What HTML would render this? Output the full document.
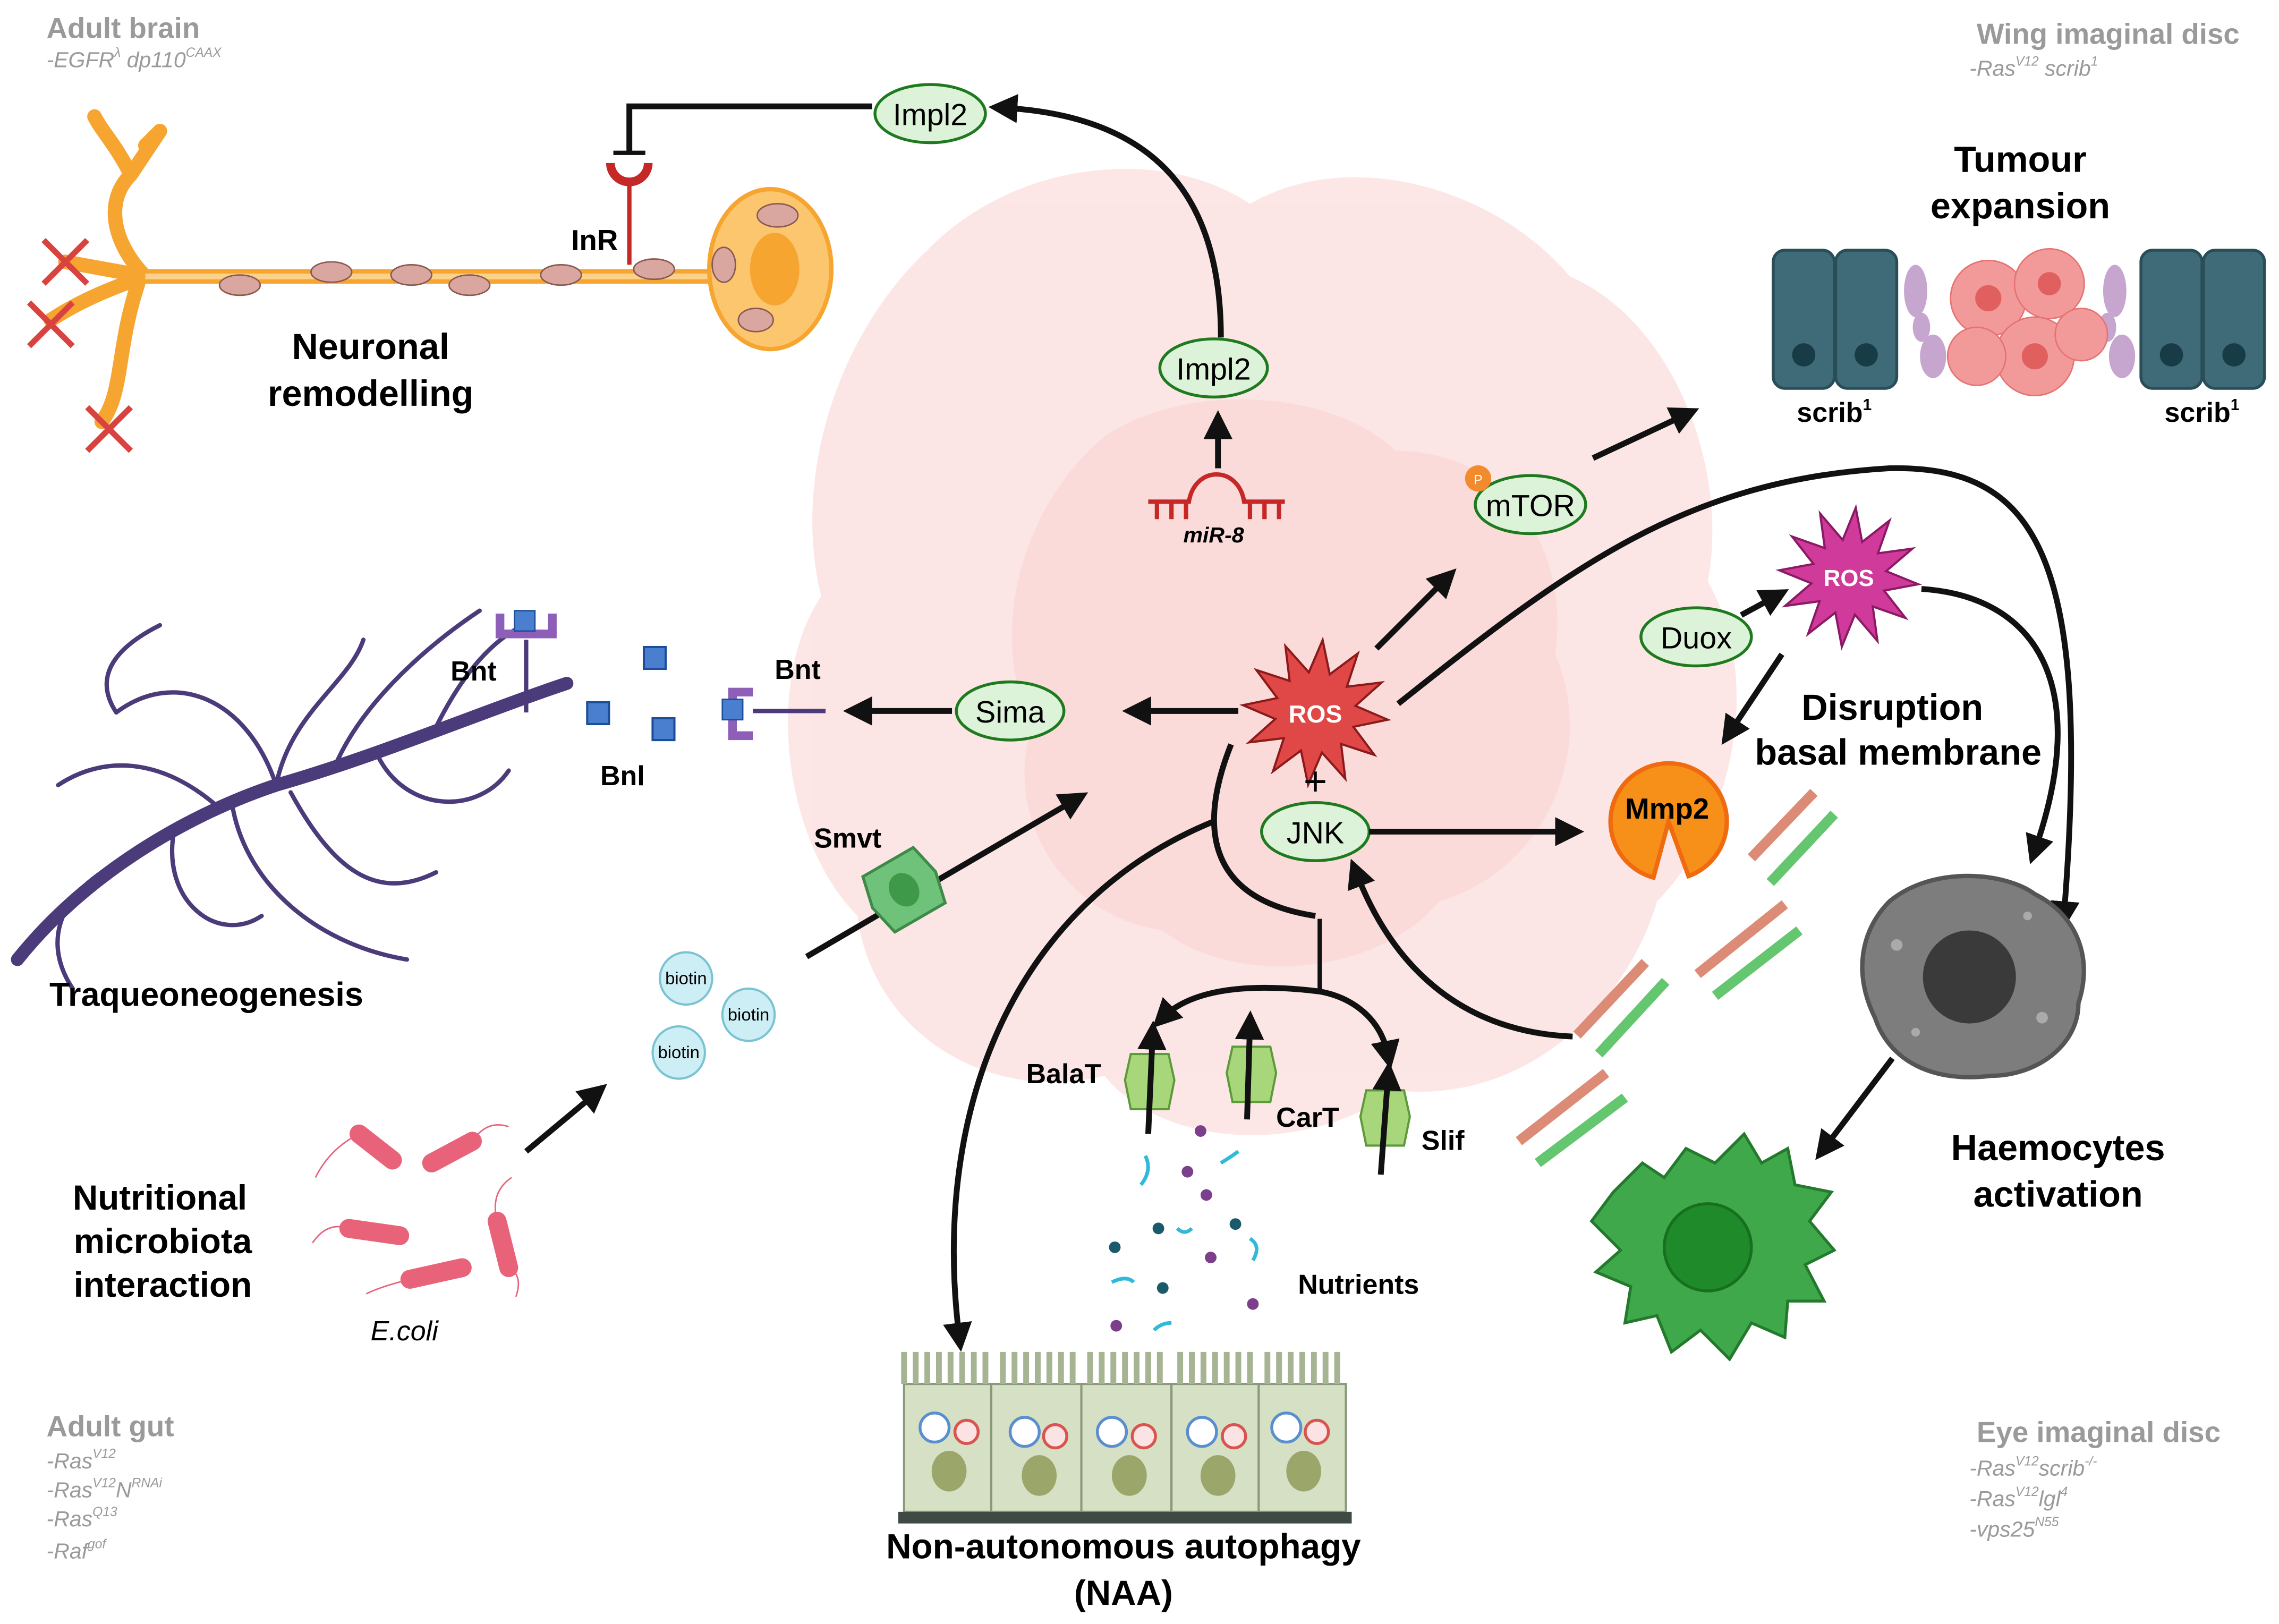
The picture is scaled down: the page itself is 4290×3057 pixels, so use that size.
<!DOCTYPE html>
<html><head><meta charset="utf-8"><style>
html,body{margin:0;padding:0;background:#fff}
svg{display:block}
text{font-family:"Liberation Sans",Arial,sans-serif}
.b{font-weight:bold}
.g{fill:#9a9a9a}
.e{fill:#ddf3d9;stroke:#1f7a1f;stroke-width:2}
.a{stroke:#111;stroke-width:4;fill:none}
</style></head><body>
<svg id="s" width="4290" height="3057" viewBox="0 0 1568 1117" xmlns="http://www.w3.org/2000/svg">
<defs>
<marker id="ah" markerWidth="5" markerHeight="5" refX="2.5" refY="2.5" orient="auto" markerUnits="strokeWidth"><path d="M0,0 L5,2.5 L0,5 z" fill="#111"/></marker>
</defs>
<!-- pink blob -->
<g fill="#f9cfcd" opacity="0.5">
<path d="M640,170 C700,110 800,100 860,140 C930,100 1030,130 1080,190 C1150,220 1190,320 1175,400 C1215,470 1190,570 1140,620 C1120,690 1050,760 960,750 C900,795 800,790 760,740 C680,760 600,710 590,630 C540,580 525,470 565,410 C545,330 575,230 640,170 Z"/>
<path d="M700,230 C760,170 880,170 930,210 C1010,190 1090,250 1100,320 C1160,380 1150,480 1110,540 C1110,620 1030,690 950,680 C880,730 780,720 730,670 C650,660 610,590 620,520 C580,460 600,380 650,340 C650,290 670,250 700,230 Z"/>
</g>
<g fill="#f7c2c0" opacity="0.3">
<path d="M760,300 C820,260 920,270 960,310 C1040,310 1080,380 1070,450 C1100,520 1060,600 990,620 C950,670 850,680 800,640 C730,630 690,560 710,500 C680,440 700,350 760,300 Z"/>
</g>

<!-- corner labels -->
<text x="32" y="26" class="b g" font-size="20">Adult brain</text>
<text x="32" y="46" class="g" font-size="15" font-style="italic">-EGFR<tspan font-size="9" dy="-7">λ</tspan><tspan dy="7"> dp110</tspan><tspan font-size="9" dy="-7">CAAX</tspan></text>
<text x="1360" y="30" class="b g" font-size="20">Wing imaginal disc</text>
<text x="1355" y="52" class="g" font-size="15" font-style="italic">-Ras<tspan font-size="9" dy="-7">V12</tspan><tspan dy="7"> scrib</tspan><tspan font-size="9" dy="-7">1</tspan></text>
<text x="32" y="988" class="b g" font-size="20">Adult gut</text>
<g class="g" font-size="15" font-style="italic">
<text x="32" y="1010">-Ras<tspan font-size="9" dy="-7">V12</tspan></text>
<text x="32" y="1030">-Ras<tspan font-size="9" dy="-7">V12</tspan><tspan dy="7">N</tspan><tspan font-size="9" dy="-7">RNAi</tspan></text>
<text x="32" y="1050">-Ras<tspan font-size="9" dy="-7">Q13</tspan></text>
<text x="32" y="1072">-Raf<tspan font-size="9" dy="-7">gof</tspan></text>
<text x="1355" y="1015">-Ras<tspan font-size="9" dy="-7">V12</tspan><tspan dy="7">scrib</tspan><tspan font-size="9" dy="-7">-/-</tspan></text>
<text x="1355" y="1036">-Ras<tspan font-size="9" dy="-7">V12</tspan><tspan dy="7">lgl</tspan><tspan font-size="9" dy="-7">4</tspan></text>
<text x="1355" y="1057">-vps25<tspan font-size="9" dy="-7">N55</tspan></text>
</g>
<text x="1360" y="992" class="b g" font-size="20">Eye imaginal disc</text>

<!-- neuron -->
<g stroke="#f7a531" stroke-width="10" fill="none" stroke-linecap="round">
<path d="M100,190 L490,190"/>
<path d="M100,190 C80,170 70,140 90,120 L110,90 M90,120 C80,100 70,90 65,80 M100,190 L45,180 M100,190 C70,200 50,210 35,220 M95,195 C80,240 85,270 70,290 M110,90 L100,100"/>
</g>
<g stroke="#fcd28a" stroke-width="4" fill="none"><path d="M100,190 L490,190"/></g>
<ellipse cx="530" cy="185" rx="42" ry="55" fill="#fbc66e" stroke="#f7a531" stroke-width="3"/>
<ellipse cx="533" cy="185" rx="17" ry="25" fill="#f7a531"/>
<g fill="#d9a7a0" stroke="#8a5a50" stroke-width="1">
<ellipse cx="165" cy="196" rx="14" ry="7"/><ellipse cx="228" cy="187" rx="14" ry="7"/><ellipse cx="283" cy="189" rx="14" ry="7"/><ellipse cx="323" cy="196" rx="14" ry="7"/><ellipse cx="386" cy="189" rx="14" ry="7"/><ellipse cx="450" cy="185" rx="14" ry="7"/><ellipse cx="535" cy="148" rx="14" ry="8"/><ellipse cx="498" cy="182" rx="8" ry="12"/><ellipse cx="520" cy="220" rx="12" ry="8"/>
</g>
<g stroke="#d9433f" stroke-width="4"><path d="M30,165 L60,195 M60,165 L30,195 M20,208 L50,238 M50,208 L20,238 M60,280 L90,310 M90,280 L60,310"/></g>
<path d="M420,112 a13,13 0 0,0 26,0" fill="none" stroke="#c62828" stroke-width="6"/>
<line x1="433" y1="125" x2="433" y2="182" stroke="#c62828" stroke-width="3"/>
<text x="393" y="172" class="b" font-size="20">InR</text>
<text x="255" y="247" class="b" font-size="25" text-anchor="middle">Neuronal</text>
<text x="255" y="279" class="b" font-size="25" text-anchor="middle">remodelling</text>
<!-- Impl2 top -->
<path d="M600,73 L433,73 L433,105" class="a" stroke-width="3"/>
<line x1="422" y1="105" x2="444" y2="105" stroke="#111" stroke-width="3"/>
<ellipse cx="640" cy="78" rx="38" ry="20" class="e"/>
<text x="640" y="86" font-size="21" text-anchor="middle">Impl2</text>
<path d="M840,232 C840,140 800,80 690,74" class="a" stroke-width="3" marker-end="url(#ah)"/>
<ellipse cx="835" cy="253" rx="37" ry="20" class="e"/>
<text x="835" y="261" font-size="21" text-anchor="middle">Impl2</text>
<line x1="838" y1="322" x2="838" y2="292" class="a" marker-end="url(#ah)"/>
<g stroke="#c62828" stroke-width="3" fill="none">
<path d="M790,345 L818,345 C822,320 852,320 856,345 L884,345"/>
<path d="M796,345v12M806,345v12M816,345v12M860,345v12M870,345v12M880,345v12"/>
</g>
<text x="835" y="373" class="b" font-size="15" font-style="italic" text-anchor="middle">miR-8</text>

<!-- mTOR -->
<line x1="1096" y1="315" x2="1160" y2="285" class="a" marker-end="url(#ah)"/>
<ellipse cx="1053" cy="347" rx="38" ry="20" class="e"/>
<text x="1053" y="355" font-size="21" text-anchor="middle">mTOR</text>
<circle cx="1017" cy="329" r="9" fill="#f28a2e"/>
<text x="1017" y="333" font-size="9" fill="#fff" text-anchor="middle">P</text>
<line x1="947" y1="446" x2="995" y2="398" class="a" marker-end="url(#ah)"/>

<!-- Tumour expansion -->
<text x="1390" y="118" class="b" font-size="25" text-anchor="middle">Tumour</text>
<text x="1390" y="150" class="b" font-size="25" text-anchor="middle">expansion</text>
<g fill="#3f6b78" stroke="#2a4e58" stroke-width="2">
<rect x="1220" y="172" width="42" height="95" rx="8"/><rect x="1263" y="172" width="42" height="95" rx="8"/>
<rect x="1473" y="172" width="42" height="95" rx="8"/><rect x="1516" y="172" width="42" height="95" rx="8"/>
</g>
<g fill="#173c45"><circle cx="1241" cy="244" r="8"/><circle cx="1284" cy="244" r="8"/><circle cx="1494" cy="244" r="8"/><circle cx="1537" cy="244" r="8"/></g>
<g fill="#b88fc4" opacity="0.8">
<ellipse cx="1318" cy="200" rx="8" ry="18"/><ellipse cx="1330" cy="245" rx="9" ry="15"/><ellipse cx="1455" cy="200" rx="8" ry="18"/><ellipse cx="1460" cy="245" rx="9" ry="15"/><ellipse cx="1322" cy="225" rx="6" ry="10"/><ellipse cx="1450" cy="225" rx="6" ry="10"/>
</g>
<g fill="#f29a9a" stroke="#e57373" stroke-width="1">
<circle cx="1368" cy="205" r="26"/><circle cx="1410" cy="195" r="24"/><circle cx="1400" cy="245" r="27"/><circle cx="1360" cy="245" r="20"/><circle cx="1432" cy="230" r="18"/>
</g>
<g fill="#e06060"><circle cx="1368" cy="205" r="9"/><circle cx="1410" cy="195" r="8"/><circle cx="1400" cy="245" r="9"/></g>
<text x="1262" y="290" class="b" font-size="19" text-anchor="middle">scrib<tspan font-size="11" dy="-8">1</tspan></text>
<text x="1515" y="290" class="b" font-size="19" text-anchor="middle">scrib<tspan font-size="11" dy="-8">1</tspan></text>

<!-- tracheae -->
<g stroke="#4b3b7a" fill="none" stroke-linecap="round">
<path d="M12,660 C60,600 130,560 190,540 C260,520 330,490 390,470" stroke-width="9"/>
<g stroke-width="3">
<path d="M190,540 C170,480 120,460 80,490 M150,555 C110,520 70,520 40,540 M230,528 C250,480 300,440 330,420 M120,570 C110,620 150,650 180,630 M200,545 C230,600 260,620 300,600 M260,520 C280,560 330,560 350,530 M80,490 C60,460 90,440 110,430 M300,500 C320,460 340,440 360,430 M190,540 C200,490 240,470 250,440 M70,600 C40,620 30,650 50,680 M160,555 C170,610 220,650 280,660"/>
</g>
</g>
<line x1="362" y1="440" x2="362" y2="490" stroke="#4b3b7a" stroke-width="3"/>
<path d="M344,422 v14 h36 v-14" fill="none" stroke="#8e5fb8" stroke-width="6"/>
<rect x="354" y="420" width="14" height="14" fill="#4a7fd0" stroke="#1d4e9a"/>
<text x="310" y="468" class="b" font-size="19">Bnt</text>
<g fill="#4a7fd0" stroke="#1d4e9a" stroke-width="1.5"><rect x="443" y="445" width="15" height="15"/><rect x="404" y="483" width="15" height="15"/><rect x="449" y="494" width="15" height="15"/></g>
<text x="413" y="540" class="b" font-size="19">Bnl</text>
<path d="M518,476 h-14 v30 h14" fill="none" stroke="#8e5fb8" stroke-width="6"/>
<rect x="497" y="481" width="14" height="14" fill="#4a7fd0" stroke="#1d4e9a"/>
<line x1="518" y1="489" x2="568" y2="489" stroke="#4b3b7a" stroke-width="3"/>
<text x="533" y="467" class="b" font-size="19">Bnt</text>
<text x="34" y="692" class="b" font-size="23">Traqueoneogenesis</text>

<!-- Sima -->
<line x1="655" y1="489" x2="590" y2="489" class="a" marker-end="url(#ah)"/>
<ellipse cx="695" cy="489" rx="37" ry="20" class="e"/>
<text x="695" y="497" font-size="21" text-anchor="middle">Sima</text>
<line x1="852" y1="489" x2="782" y2="489" class="a" marker-end="url(#ah)"/>

<!-- ROS main -->
<polygon id="ros1" fill="#e04747" stroke="#8b1a1a" stroke-width="1.5"/>
<text x="905" y="497" class="b" font-size="17" fill="#fff" text-anchor="middle">ROS</text>
<text x="905" y="547" font-size="28" text-anchor="middle">+</text>
<ellipse cx="905" cy="572" rx="37" ry="20" class="e"/>
<text x="905" y="580" font-size="21" text-anchor="middle">JNK</text>
<line x1="942" y1="572" x2="1080" y2="572" class="a" marker-end="url(#ah)"/>
<path d="M962,484 C1080,390 1160,330 1300,322 C1400,320 1440,380 1420,630" class="a" marker-end="url(#ah)"/>
<path d="M847,512 C820,580 840,620 905,630" class="a"/>
<path d="M1082,713 C1010,710 960,670 933,600" class="a" marker-end="url(#ah)"/>
<line x1="908" y1="632" x2="908" y2="682" stroke="#111" stroke-width="3"/>
<path d="M908,682 C860,676 820,680 800,700" class="a" stroke-width="3" marker-end="url(#ah)"/>
<path d="M908,682 C930,686 950,700 955,726" class="a" stroke-width="3" marker-end="url(#ah)"/>
<path d="M835,565 C700,620 640,760 660,920" class="a" marker-end="url(#ah)"/>

<!-- Smvt & biotin -->
<line x1="555" y1="658" x2="740" y2="550" class="a" marker-end="url(#ah)"/>
<g transform="translate(622,612) rotate(-30)"><path d="M-20,-22 h40 l5,22 l-5,22 h-40 l-5,-22 z" fill="#6fc27a" stroke="#3e8a49" stroke-width="2"/><ellipse rx="10" ry="12" fill="#3e9a49"/></g>
<text x="560" y="583" class="b" font-size="19">Smvt</text>
<g fill="#cdeef5" stroke="#7ac3d3" stroke-width="1.5"><circle cx="472" cy="673" r="18"/><circle cx="515" cy="698" r="18"/><circle cx="467" cy="724" r="18"/></g>
<g font-size="12" text-anchor="middle"><text x="472" y="677">biotin</text><text x="515" y="702">biotin</text><text x="467" y="728">biotin</text></g>
<line x1="362" y1="792" x2="410" y2="752" class="a" marker-end="url(#ah)"/>
<g stroke="#e8627a" stroke-width="13" stroke-linecap="round"><line x1="247" y1="780" x2="270" y2="798"/><line x1="297" y1="800" x2="325" y2="785"/><line x1="240" y1="845" x2="275" y2="850"/><line x1="282" y1="880" x2="318" y2="872"/><line x1="342" y1="840" x2="350" y2="872"/></g>
<g stroke="#e8627a" stroke-width="1" fill="none"><path d="M247,780 q-20,10 -30,30 M325,785 q10,-15 25,-10 M240,845 q-15,-5 -25,10 M282,880 q-20,5 -30,10 M350,872 q10,5 5,20 M342,840 q-5,-20 10,-30"/></g>
<text x="255" y="922" font-size="19" font-style="italic">E.coli</text>
<g class="b" font-size="24" text-anchor="middle"><text x="110" y="832">Nutritional</text><text x="112" y="862">microbiota</text><text x="112" y="892">interaction</text></g>

<!-- transporters -->
<g fill="#a8d77b" stroke="#5c9a3a" stroke-width="1.5">
<path d="M778,725 h26 l4,18 l-4,20 h-26 l-4,-20 z"/><path d="M848,720 h26 l4,18 l-4,20 h-26 l-4,-20 z"/><path d="M940,750 h26 l4,18 l-4,20 h-26 l-4,-20 z"/>
</g>
<g class="a" stroke-width="3"><line x1="790" y1="780" x2="793" y2="712" marker-end="url(#ah)"/><line x1="858" y1="770" x2="860" y2="705" marker-end="url(#ah)"/><line x1="950" y1="808" x2="955" y2="740" marker-end="url(#ah)"/></g>
<g class="b" font-size="19"><text x="706" y="745">BalaT</text><text x="878" y="775">CarT</text><text x="978" y="791">Slif</text><text x="893" y="890">Nutrients</text></g>
<g fill="#7b3f8c"><circle cx="826" cy="778" r="4"/><circle cx="817" cy="806" r="4"/><circle cx="830" cy="822" r="4"/><circle cx="833" cy="865" r="4"/><circle cx="862" cy="897" r="4"/><circle cx="768" cy="912" r="4"/></g>
<g fill="#1a5a6a"><circle cx="850" cy="842" r="4"/><circle cx="767" cy="858" r="4"/><circle cx="800" cy="886" r="4"/><circle cx="797" cy="845" r="4"/></g>
<g stroke="#30b9d8" stroke-width="2.5" fill="none"><path d="M788,795 q5,10 -3,20 M840,800 q8,-5 12,-8 M860,852 q8,5 2,15 M765,882 q10,-5 15,0 M794,915 q5,-5 12,-5 M810,845 q5,5 10,0"/></g>

<!-- NAA cells -->
<g>
<g fill="#d6e0c4" stroke="#8a9a78" stroke-width="1.5">
<rect x="622" y="952" width="60" height="88"/><rect x="682" y="952" width="62" height="88"/><rect x="744" y="952" width="62" height="88"/><rect x="806" y="952" width="60" height="88"/><rect x="866" y="952" width="60" height="88"/>
</g>
<path d="M622,952 V930 M630,952V930 M638,952V930 M646,952V930 M654,952V930 M662,952V930 M670,952V930 M678,952V930 M690,952V930 M698,952V930 M706,952V930 M714,952V930 M722,952V930 M730,952V930 M738,952V930 M750,952V930 M758,952V930 M766,952V930 M774,952V930 M782,952V930 M790,952V930 M798,952V930 M812,952V930 M820,952V930 M828,952V930 M836,952V930 M844,952V930 M852,952V930 M860,952V930 M872,952V930 M880,952V930 M888,952V930 M896,952V930 M904,952V930 M912,952V930 M920,952V930" stroke="#a7b494" stroke-width="4"/>
<rect x="618" y="1040" width="312" height="8" fill="#3f4a44"/>
<g fill="#9aa66a"><ellipse cx="653" cy="1012" rx="12" ry="14"/><ellipse cx="715" cy="1015" rx="12" ry="14"/><ellipse cx="777" cy="1015" rx="12" ry="14"/><ellipse cx="838" cy="1015" rx="12" ry="14"/><ellipse cx="897" cy="1012" rx="12" ry="14"/></g>
<g fill="#fff" stroke="#5a8fcf" stroke-width="2"><circle cx="643" cy="982" r="10"/><circle cx="705" cy="985" r="10"/><circle cx="765" cy="985" r="10"/><circle cx="827" cy="985" r="10"/><circle cx="885" cy="982" r="10"/></g>
<g fill="#fbe3e3" stroke="#d9534f" stroke-width="2"><circle cx="665" cy="985" r="8"/><circle cx="726" cy="988" r="8"/><circle cx="787" cy="988" r="8"/><circle cx="849" cy="988" r="8"/><circle cx="906" cy="985" r="8"/></g>
</g>
<text x="773" y="1072" class="b" font-size="24" text-anchor="middle">Non-autonomous autophagy</text>
<text x="773" y="1104" class="b" font-size="24" text-anchor="middle">(NAA)</text>

<!-- Duox / ROS2 -->
<polygon id="ros2" fill="#d03a9a" stroke="#8a1a64" stroke-width="1.5"/>
<text x="1272" y="403" class="b" font-size="16" fill="#fff" text-anchor="middle">ROS</text>
<line x1="1198" y1="423" x2="1222" y2="410" class="a" marker-end="url(#ah)"/>
<ellipse cx="1167" cy="438" rx="38" ry="20" class="e"/>
<text x="1167" y="446" font-size="21" text-anchor="middle">Duox</text>
<line x1="1226" y1="450" x2="1190" y2="504" class="a" marker-end="url(#ah)"/>
<path d="M1322,405 C1400,410 1440,470 1400,585" class="a" marker-end="url(#ah)"/>
<text x="1302" y="495" class="b" font-size="25" text-anchor="middle">Disruption</text>
<text x="1306" y="526" class="b" font-size="25" text-anchor="middle">basal membrane</text>
<path d="M1148,565 L1137.6,603.6 A40,40 0 1,1 1161.7,602.6 Z" fill="#f79019" stroke="#f06a10" stroke-width="3"/>
<text x="1147" y="563" class="b" font-size="20" text-anchor="middle">Mmp2</text>
<g stroke-width="7"><g stroke="#dc8c76"><line x1="1205" y1="590" x2="1248" y2="545"/><line x1="1168" y1="670" x2="1228" y2="622"/><line x1="1085" y1="712" x2="1132" y2="662"/><line x1="1045" y1="785" x2="1105" y2="738"/></g>
<g stroke="#64c66f"><line x1="1218" y1="607" x2="1262" y2="560"/><line x1="1180" y1="685" x2="1238" y2="640"/><line x1="1100" y1="725" x2="1146" y2="675"/><line x1="1058" y1="800" x2="1118" y2="755"/></g></g>

<!-- haemocytes -->
<path d="M1300,620 C1330,595 1380,600 1400,615 C1430,630 1440,660 1430,690 C1430,720 1400,740 1370,740 C1330,745 1300,730 1290,700 C1275,670 1280,640 1300,620 Z" fill="#7d7d7d" stroke="#555" stroke-width="3"/>
<circle cx="1355" cy="672" r="32" fill="#3a3a3a"/>
<g fill="#aaa"><circle cx="1305" cy="650" r="4"/><circle cx="1318" cy="710" r="3"/><circle cx="1405" cy="700" r="4"/><circle cx="1395" cy="630" r="3"/></g>
<line x1="1302" y1="728" x2="1255" y2="790" class="a" marker-end="url(#ah)"/>
<path d="M1110,820 L1130,800 L1145,810 L1160,790 L1180,800 L1200,780 L1212,800 L1230,790 L1235,815 L1260,820 L1245,840 L1262,860 L1242,870 L1255,895 L1230,895 L1228,920 L1205,910 L1190,935 L1170,915 L1150,930 L1140,905 L1118,910 L1122,885 L1098,875 L1115,860 L1095,840 Z" fill="#3fa84a" stroke="#237a2c" stroke-width="2"/>
<circle cx="1175" cy="858" r="30" fill="#1f8a2a" stroke="#16701f" stroke-width="2"/>
<text x="1416" y="798" class="b" font-size="25" text-anchor="middle">Haemocytes</text>
<text x="1416" y="830" class="b" font-size="25" text-anchor="middle">activation</text>
<script>
function star(id,cx,cy,n,ro,ri){var p=[];for(var i=0;i<2*n;i++){var r=i%2?ri:ro,a=Math.PI*i/n-Math.PI/2+0.1;p.push((cx+r*Math.cos(a)).toFixed(1)+','+(cy+r*Math.sin(a)).toFixed(1));}document.getElementById(id).setAttribute('points',p.join(' '));}
star('ros1',905,490,12,50,28);star('ros2',1272,397,12,48,26);
</script>
</svg>
</body></html>
